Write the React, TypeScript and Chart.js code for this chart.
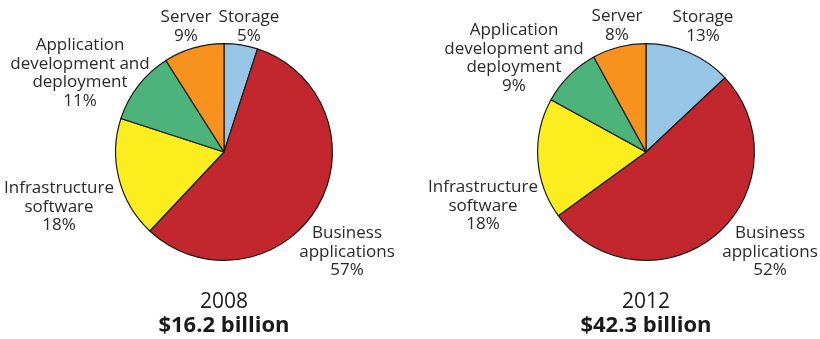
import React, { useEffect, useRef } from "react";
import { Chart, registerables } from "chart.js";

Chart.register(...registerables);

// ---- data ----
const segmentKeys = ["Storage", "Business", "Infrastructure", "AppDev", "Server"];
const segmentLabels: string[][] = [
  ["Storage"],
  ["Business", "applications"],
  ["Infrastructure", "software"],
  ["Application", "development and", "deployment"],
  ["Server"],
];
const values2008 = [5, 57, 18, 11, 9];
const values2012 = [13, 52, 18, 9, 8];
const year2008 = "2008";
const year2012 = "2012";
const total2008 = "$16.2 billion";
const total2012 = "$42.3 billion";

// ---- style / layout ----
const colors = ["#97c5e5", "#c1272d", "#fced1f", "#4cb37b", "#f7921e"];
const FONT = "'Open Sans', sans-serif";
const LINE_H = 18.5;

// label anchor offsets (text centre x, first-line baseline y) relative to pie centre
const labelOffsets2008: [number, number][] = [
  [25, -130],
  [123, 86],
  [-165, 41],
  [-144, -102],
  [-38, -130],
];
const labelOffsets2012: [number, number][] = [
  [57, -130],
  [124, 86],
  [-163, 40],
  [-132, -117],
  [-29, -131],
];

function makeLabelPlugin(values: number[], offsets: [number, number][], year: string, total: string) {
  return {
    id: "pieLabels",
    afterDraw(chart: any) {
      const meta = chart.getDatasetMeta(0);
      const arc = meta.data[0];
      if (!arc) return;
      const cx = arc.x;
      const cy = arc.y;
      const ctx = chart.ctx;
      ctx.save();
      ctx.textAlign = "center";
      ctx.textBaseline = "alphabetic";
      ctx.fillStyle = "#2a2a2a";
      ctx.font = `17px ${FONT}`;
      segmentLabels.forEach((lines, i) => {
        const [dx, dy] = offsets[i];
        const all = [...lines, `${values[i]}%`];
        all.forEach((t, k) => {
          ctx.fillText(t, cx + dx, cy + dy + k * LINE_H);
        });
      });
      ctx.fillStyle = "#1a1a1a";
      ctx.font = `21px ${FONT}`;
      ctx.fillText(year, cx, cy + 156);
      ctx.font = `bold 22px ${FONT}`;
      ctx.fillText(total, cx, cy + 180);
      ctx.restore();
    },
  };
}

function PieChart({ values, offsets, year, total, padding }: any) {
  const ref = useRef<HTMLCanvasElement>(null);
  useEffect(() => {
    if (!ref.current) return;
    const chart = new Chart(ref.current, {
      type: "pie",
      data: {
        labels: segmentKeys,
        datasets: [
          {
            data: values,
            backgroundColor: colors,
            borderColor: "#1a1a1a",
            borderWidth: 1.2,
          },
        ],
      },
      options: {
        responsive: false,
        animation: false,
        layout: { padding },
        plugins: {
          legend: { display: false },
          tooltip: { enabled: false },
        },
      },
      plugins: [makeLabelPlugin(values, offsets, year, total)],
    });
    return () => chart.destroy();
  }, []);
  return <canvas ref={ref} width={410} height={339} style={{ display: "block", width: 410, height: 339 }} />;
}

export default function App() {
  return (
    <div style={{ position: "fixed", left: 0, top: 0, width: 820, height: 339, background: "#fff", display: "flex" }}>
      <PieChart
        values={values2008}
        offsets={labelOffsets2008}
        year={year2008}
        total={total2008}
        padding={{ left: 115, right: 77, top: 43, bottom: 78 }}
      />
      <PieChart
        values={values2012}
        offsets={labelOffsets2012}
        year={year2012}
        total={total2012}
        padding={{ left: 127, right: 65, top: 43, bottom: 78 }}
      />
    </div>
  );
}
